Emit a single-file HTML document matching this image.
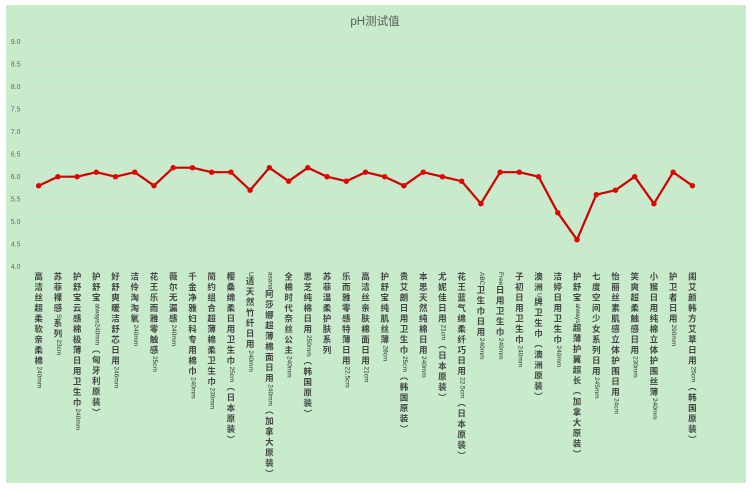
<!DOCTYPE html>
<html>
<head>
<meta charset="utf-8">
<style>
  html,body{margin:0;padding:0;}
  body{width:756px;height:490px;position:relative;background:#ffffff;overflow:hidden;}
  #bg{position:absolute;left:6px;top:5px;width:740px;height:478px;background:#c7ebcb;}
  svg{position:absolute;left:0;top:0;}
  .lab{position:absolute;top:272px;width:12px;line-height:12px;writing-mode:vertical-rl;text-orientation:mixed;
       font-family:"Liberation Sans","Noto Sans CJK SC",sans-serif;font-size:8.5px;font-weight:bold;letter-spacing:2px;color:#444444;white-space:nowrap;}
  .lab span{font-size:6.5px;letter-spacing:0;font-weight:normal;color:#333;}
</style>
</head>
<body>
<div id="bg"></div>
<svg width="756" height="490" viewBox="0 0 756 490" xmlns="http://www.w3.org/2000/svg">
  <text x="375" y="25" text-anchor="middle" font-family="Liberation Sans, Noto Sans CJK SC, sans-serif" font-size="11.5" fill="#595959">pH测试值</text>
  <g stroke="#d7dcd5" stroke-width="1">
    <line x1="29" x2="702" y1="41.7" y2="41.7"/>
    <line x1="29" x2="702" y1="64.2" y2="64.2"/>
    <line x1="29" x2="702" y1="86.7" y2="86.7"/>
    <line x1="29" x2="702" y1="109.2" y2="109.2"/>
    <line x1="29" x2="702" y1="131.7" y2="131.7"/>
    <line x1="29" x2="702" y1="154.2" y2="154.2"/>
    <line x1="29" x2="702" y1="176.7" y2="176.7"/>
    <line x1="29" x2="702" y1="199.2" y2="199.2"/>
    <line x1="29" x2="702" y1="221.7" y2="221.7"/>
    <line x1="29" x2="702" y1="244.2" y2="244.2"/>
    <line x1="29" x2="702" y1="266.7" y2="266.7"/>
  </g>
  <g font-family="Liberation Sans, sans-serif" font-size="7" fill="#666666" text-anchor="end">
    <text x="20.5" y="44.2">9.0</text>
    <text x="20.5" y="66.7">8.5</text>
    <text x="20.5" y="89.2">8.0</text>
    <text x="20.5" y="111.7">7.5</text>
    <text x="20.5" y="134.2">7.0</text>
    <text x="20.5" y="156.7">6.5</text>
    <text x="20.5" y="179.2">6.0</text>
    <text x="20.5" y="201.7">5.5</text>
    <text x="20.5" y="224.2">5.0</text>
    <text x="20.5" y="246.7">4.5</text>
    <text x="20.5" y="269.2">4.0</text>
  </g>
  <g id="series"></g>
</svg>
<div id="labels"></div>
<script>
(function(){
  var vals=[5.8,6.0,6.0,6.1,6.0,6.1,5.8,6.2,6.2,6.1,6.1,5.7,6.2,5.9,6.2,6.0,5.9,6.1,6.0,5.8,6.1,6.0,5.9,5.4,6.1,6.1,6.0,5.2,4.6,5.6,5.7,6.0,5.4,6.1,5.8];
  var labs=[
  '高洁丝超柔软亲柔棉<span>240mm</span>',
  '苏菲裸感<span>S</span>系列<span>23cm</span>',
  '护舒宝云感棉极薄日用卫生巾<span>240mm</span>',
  '护舒宝<span>always240mm</span>（匈牙利原装）',
  '好舒爽暖洁舒芯日用<span>246mm</span>',
  '洁伶淘淘氧<span>240mm</span>',
  '花王乐而雅零触感<span>25cm</span>',
  '薇尔无漏感<span>240mm</span>',
  '千金净雅妇科专用棉巾<span>240mm</span>',
  '简约组合超薄棉柔卫生巾<span>230mm</span>',
  '樱桑绵柔日用卫生巾<span>25cm</span>（日本原装）',
  '<span>U</span>适天然竹纤日用<span>240mm</span>',
  '<span>asana</span>阿莎娜超薄棉面日用<span>240mm</span>（加拿大原装）',
  '全棉时代奈丝公主<span>240mm</span>',
  '思芝纯棉日用<span>250mm</span>（韩国原装）',
  '苏菲温柔护肤系列',
  '乐而雅零感特薄日用<span>22.5cm</span>',
  '高洁丝亲肤棉面日用<span>21cm</span>',
  '护舒宝纯肌丝薄<span>28cm</span>',
  '贵艾朗日用卫生巾<span>25cm</span>（韩国原装）',
  '本思天然纯棉日用<span>240mm</span>',
  '尤妮佳日用<span>21cm</span>（日本原装）',
  '花王蓝气绵柔纤巧日用<span>22.5cm</span>（日本原装）',
  '<span>ABC</span>卫生巾日用<span>240mm</span>',
  '<span>Free</span>日用卫生巾<span>240mm</span>',
  '子初日用卫生巾<span>240mm</span>',
  '澳洲<span>U</span>牌卫生巾（澳洲原装）',
  '洁婷日用卫生巾<span>240mm</span>',
  '护舒宝<span>always</span>超薄护翼超长（加拿大原装）',
  '七度空间少女系列日用<span>245mm</span>',
  '怡丽丝素肌感立体护围日用<span>24cm</span>',
  '笑爽超柔触感日用<span>230mm</span>',
  '小猴日用纯棉立体护围丝薄<span>240mm</span>',
  '护卫者日用<span>290mm</span>',
  '闺艾颜韩方艾草日用<span>25cm</span>（韩国原装）'
  ];
  var ns='http://www.w3.org/2000/svg';
  var g=document.getElementById('series');
  var step=673/35, x0=29+step/2;
  var pts=[];
  for(var i=0;i<vals.length;i++){
    var x=x0+i*step, y=266.7-(vals[i]-4)*45;
    pts.push(x.toFixed(2)+','+y.toFixed(2));
  }
  var pl=document.createElementNS(ns,'polyline');
  pl.setAttribute('points',pts.join(' '));
  pl.setAttribute('fill','none');
  pl.setAttribute('stroke','#cc0000');
  pl.setAttribute('stroke-width','2.2');
  pl.setAttribute('stroke-linejoin','round');
  g.appendChild(pl);
  for(var i=0;i<vals.length;i++){
    var p=pts[i].split(',');
    var c=document.createElementNS(ns,'circle');
    c.setAttribute('cx',p[0]);c.setAttribute('cy',p[1]);c.setAttribute('r','2.7');
    c.setAttribute('fill','#e30000');
    g.appendChild(c);
  }
  var L=document.getElementById('labels');
  var html='';
  for(var i=0;i<labs.length;i++){
    var x=x0+i*step;
    html+='<div class="lab" style="left:'+(x-6).toFixed(2)+'px">'+labs[i]+'</div>';
  }
  L.innerHTML=html;
})();
</script>
</body>
</html>
